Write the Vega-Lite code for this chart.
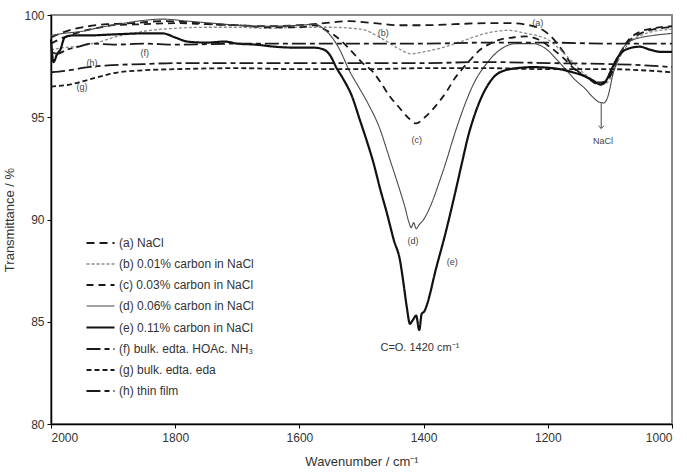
{
"$schema":"https://vega.github.io/schema/vega-lite/v6.json",
"width":621,"height":409,
"autosize":{"type":"none"},
"padding":{"left":51,"top":15,"right":15,"bottom":48},
"config":{"view":{"stroke":"#8a8a8a","strokeWidth":2},"font":"Liberation Sans",
"axis":{"grid":false,"domainColor":"#000","domainWidth":1.5,"tickColor":"#000","tickSize":4,"labelFontSize":12,"labelColor":"#333","titleFontSize":13,"titleFontWeight":"normal","titleColor":"#333","labelFont":"Liberation Sans","titleFont":"Liberation Sans"}},
"datasets":{
"spectra":[
{"s":"(a) NaCl","w":2000,"t":98.9},{"s":"(a) NaCl","w":1985,"t":99.1},{"s":"(a) NaCl","w":1965,"t":99.3},{"s":"(a) NaCl","w":1940,"t":99.45},{"s":"(a) NaCl","w":1910,"t":99.55},{"s":"(a) NaCl","w":1870,"t":99.6},{"s":"(a) NaCl","w":1820,"t":99.7},{"s":"(a) NaCl","w":1780,"t":99.65},{"s":"(a) NaCl","w":1740,"t":99.55},{"s":"(a) NaCl","w":1700,"t":99.5},{"s":"(a) NaCl","w":1650,"t":99.45},{"s":"(a) NaCl","w":1600,"t":99.5},{"s":"(a) NaCl","w":1560,"t":99.6},{"s":"(a) NaCl","w":1520,"t":99.7},{"s":"(a) NaCl","w":1480,"t":99.6},{"s":"(a) NaCl","w":1440,"t":99.5},{"s":"(a) NaCl","w":1400,"t":99.5},{"s":"(a) NaCl","w":1350,"t":99.55},{"s":"(a) NaCl","w":1300,"t":99.6},{"s":"(a) NaCl","w":1260,"t":99.6},{"s":"(a) NaCl","w":1230,"t":99.5},{"s":"(a) NaCl","w":1210,"t":99.3},{"s":"(a) NaCl","w":1190,"t":98.8},{"s":"(a) NaCl","w":1175,"t":98.2},{"s":"(a) NaCl","w":1160,"t":97.5},{"s":"(a) NaCl","w":1145,"t":97.1},{"s":"(a) NaCl","w":1130,"t":96.85},{"s":"(a) NaCl","w":1118,"t":96.7},{"s":"(a) NaCl","w":1108,"t":96.75},{"s":"(a) NaCl","w":1100,"t":97.0},{"s":"(a) NaCl","w":1092,"t":97.5},{"s":"(a) NaCl","w":1084,"t":98.1},{"s":"(a) NaCl","w":1070,"t":98.7},{"s":"(a) NaCl","w":1050,"t":99.1},{"s":"(a) NaCl","w":1030,"t":99.3},{"s":"(a) NaCl","w":1000,"t":99.4},
{"s":"(b) 0.01% carbon in NaCl","w":2000,"t":98.3},{"s":"(b) 0.01% carbon in NaCl","w":1980,"t":98.4},{"s":"(b) 0.01% carbon in NaCl","w":1950,"t":98.5},{"s":"(b) 0.01% carbon in NaCl","w":1920,"t":98.7},{"s":"(b) 0.01% carbon in NaCl","w":1900,"t":98.9},{"s":"(b) 0.01% carbon in NaCl","w":1870,"t":99.1},{"s":"(b) 0.01% carbon in NaCl","w":1840,"t":99.25},{"s":"(b) 0.01% carbon in NaCl","w":1800,"t":99.35},{"s":"(b) 0.01% carbon in NaCl","w":1750,"t":99.4},{"s":"(b) 0.01% carbon in NaCl","w":1700,"t":99.4},{"s":"(b) 0.01% carbon in NaCl","w":1650,"t":99.35},{"s":"(b) 0.01% carbon in NaCl","w":1600,"t":99.4},{"s":"(b) 0.01% carbon in NaCl","w":1550,"t":99.4},{"s":"(b) 0.01% carbon in NaCl","w":1500,"t":99.3},{"s":"(b) 0.01% carbon in NaCl","w":1470,"t":98.9},{"s":"(b) 0.01% carbon in NaCl","w":1440,"t":98.35},{"s":"(b) 0.01% carbon in NaCl","w":1420,"t":98.1},{"s":"(b) 0.01% carbon in NaCl","w":1400,"t":98.2},{"s":"(b) 0.01% carbon in NaCl","w":1370,"t":98.4},{"s":"(b) 0.01% carbon in NaCl","w":1340,"t":98.7},{"s":"(b) 0.01% carbon in NaCl","w":1300,"t":99.1},{"s":"(b) 0.01% carbon in NaCl","w":1265,"t":99.25},{"s":"(b) 0.01% carbon in NaCl","w":1235,"t":99.1},{"s":"(b) 0.01% carbon in NaCl","w":1200,"t":98.8},{"s":"(b) 0.01% carbon in NaCl","w":1180,"t":98.3},{"s":"(b) 0.01% carbon in NaCl","w":1160,"t":97.7},{"s":"(b) 0.01% carbon in NaCl","w":1140,"t":97.1},{"s":"(b) 0.01% carbon in NaCl","w":1125,"t":96.8},{"s":"(b) 0.01% carbon in NaCl","w":1112,"t":96.6},{"s":"(b) 0.01% carbon in NaCl","w":1104,"t":96.7},{"s":"(b) 0.01% carbon in NaCl","w":1096,"t":97.1},{"s":"(b) 0.01% carbon in NaCl","w":1086,"t":97.8},{"s":"(b) 0.01% carbon in NaCl","w":1070,"t":98.6},{"s":"(b) 0.01% carbon in NaCl","w":1050,"t":99.0},{"s":"(b) 0.01% carbon in NaCl","w":1030,"t":99.2},{"s":"(b) 0.01% carbon in NaCl","w":1000,"t":99.3},
{"s":"(c) 0.03% carbon in NaCl","w":2000,"t":98.6},{"s":"(c) 0.03% carbon in NaCl","w":1980,"t":98.9},{"s":"(c) 0.03% carbon in NaCl","w":1950,"t":99.2},{"s":"(c) 0.03% carbon in NaCl","w":1920,"t":99.4},{"s":"(c) 0.03% carbon in NaCl","w":1900,"t":99.5},{"s":"(c) 0.03% carbon in NaCl","w":1850,"t":99.55},{"s":"(c) 0.03% carbon in NaCl","w":1800,"t":99.6},{"s":"(c) 0.03% carbon in NaCl","w":1750,"t":99.55},{"s":"(c) 0.03% carbon in NaCl","w":1700,"t":99.5},{"s":"(c) 0.03% carbon in NaCl","w":1650,"t":99.4},{"s":"(c) 0.03% carbon in NaCl","w":1600,"t":99.4},{"s":"(c) 0.03% carbon in NaCl","w":1575,"t":99.5},{"s":"(c) 0.03% carbon in NaCl","w":1560,"t":99.3},{"s":"(c) 0.03% carbon in NaCl","w":1548,"t":99.1},{"s":"(c) 0.03% carbon in NaCl","w":1535,"t":98.8},{"s":"(c) 0.03% carbon in NaCl","w":1515,"t":98.2},{"s":"(c) 0.03% carbon in NaCl","w":1500,"t":97.7},{"s":"(c) 0.03% carbon in NaCl","w":1481,"t":97.2},{"s":"(c) 0.03% carbon in NaCl","w":1467,"t":96.6},{"s":"(c) 0.03% carbon in NaCl","w":1454,"t":96.0},{"s":"(c) 0.03% carbon in NaCl","w":1440,"t":95.5},{"s":"(c) 0.03% carbon in NaCl","w":1422,"t":94.9},{"s":"(c) 0.03% carbon in NaCl","w":1412,"t":94.7},{"s":"(c) 0.03% carbon in NaCl","w":1398,"t":95.0},{"s":"(c) 0.03% carbon in NaCl","w":1385,"t":95.4},{"s":"(c) 0.03% carbon in NaCl","w":1374,"t":95.8},{"s":"(c) 0.03% carbon in NaCl","w":1362,"t":96.3},{"s":"(c) 0.03% carbon in NaCl","w":1350,"t":96.9},{"s":"(c) 0.03% carbon in NaCl","w":1338,"t":97.35},{"s":"(c) 0.03% carbon in NaCl","w":1325,"t":97.8},{"s":"(c) 0.03% carbon in NaCl","w":1309,"t":98.3},{"s":"(c) 0.03% carbon in NaCl","w":1293,"t":98.6},{"s":"(c) 0.03% carbon in NaCl","w":1277,"t":98.8},{"s":"(c) 0.03% carbon in NaCl","w":1256,"t":98.9},{"s":"(c) 0.03% carbon in NaCl","w":1235,"t":98.95},{"s":"(c) 0.03% carbon in NaCl","w":1215,"t":98.8},{"s":"(c) 0.03% carbon in NaCl","w":1195,"t":98.4},{"s":"(c) 0.03% carbon in NaCl","w":1175,"t":97.9},{"s":"(c) 0.03% carbon in NaCl","w":1155,"t":97.3},{"s":"(c) 0.03% carbon in NaCl","w":1135,"t":96.9},{"s":"(c) 0.03% carbon in NaCl","w":1118,"t":96.6},{"s":"(c) 0.03% carbon in NaCl","w":1108,"t":96.7},{"s":"(c) 0.03% carbon in NaCl","w":1098,"t":97.1},{"s":"(c) 0.03% carbon in NaCl","w":1088,"t":97.8},{"s":"(c) 0.03% carbon in NaCl","w":1072,"t":98.7},{"s":"(c) 0.03% carbon in NaCl","w":1050,"t":99.2},{"s":"(c) 0.03% carbon in NaCl","w":1030,"t":99.35},{"s":"(c) 0.03% carbon in NaCl","w":1000,"t":99.45},
{"s":"(d) 0.06% carbon in NaCl","w":2000,"t":99.0},{"s":"(d) 0.06% carbon in NaCl","w":1980,"t":99.1},{"s":"(d) 0.06% carbon in NaCl","w":1950,"t":99.2},{"s":"(d) 0.06% carbon in NaCl","w":1920,"t":99.4},{"s":"(d) 0.06% carbon in NaCl","w":1900,"t":99.5},{"s":"(d) 0.06% carbon in NaCl","w":1860,"t":99.7},{"s":"(d) 0.06% carbon in NaCl","w":1820,"t":99.8},{"s":"(d) 0.06% carbon in NaCl","w":1780,"t":99.7},{"s":"(d) 0.06% carbon in NaCl","w":1740,"t":99.6},{"s":"(d) 0.06% carbon in NaCl","w":1700,"t":99.5},{"s":"(d) 0.06% carbon in NaCl","w":1650,"t":99.45},{"s":"(d) 0.06% carbon in NaCl","w":1600,"t":99.5},{"s":"(d) 0.06% carbon in NaCl","w":1575,"t":99.55},{"s":"(d) 0.06% carbon in NaCl","w":1560,"t":99.3},{"s":"(d) 0.06% carbon in NaCl","w":1550,"t":99.0},{"s":"(d) 0.06% carbon in NaCl","w":1535,"t":98.3},{"s":"(d) 0.06% carbon in NaCl","w":1520,"t":97.3},{"s":"(d) 0.06% carbon in NaCl","w":1505,"t":96.5},{"s":"(d) 0.06% carbon in NaCl","w":1490,"t":95.7},{"s":"(d) 0.06% carbon in NaCl","w":1470,"t":94.4},{"s":"(d) 0.06% carbon in NaCl","w":1455,"t":93.0},{"s":"(d) 0.06% carbon in NaCl","w":1440,"t":91.6},{"s":"(d) 0.06% carbon in NaCl","w":1430,"t":90.6},{"s":"(d) 0.06% carbon in NaCl","w":1424,"t":89.9},{"s":"(d) 0.06% carbon in NaCl","w":1420,"t":89.6},{"s":"(d) 0.06% carbon in NaCl","w":1416,"t":89.85},{"s":"(d) 0.06% carbon in NaCl","w":1412,"t":89.55},{"s":"(d) 0.06% carbon in NaCl","w":1407,"t":89.75},{"s":"(d) 0.06% carbon in NaCl","w":1400,"t":90.0},{"s":"(d) 0.06% carbon in NaCl","w":1387,"t":90.8},{"s":"(d) 0.06% carbon in NaCl","w":1374,"t":91.9},{"s":"(d) 0.06% carbon in NaCl","w":1363,"t":92.9},{"s":"(d) 0.06% carbon in NaCl","w":1353,"t":93.9},{"s":"(d) 0.06% carbon in NaCl","w":1341,"t":95.0},{"s":"(d) 0.06% carbon in NaCl","w":1330,"t":95.9},{"s":"(d) 0.06% carbon in NaCl","w":1320,"t":96.6},{"s":"(d) 0.06% carbon in NaCl","w":1298,"t":97.65},{"s":"(d) 0.06% carbon in NaCl","w":1277,"t":98.3},{"s":"(d) 0.06% carbon in NaCl","w":1250,"t":98.6},{"s":"(d) 0.06% carbon in NaCl","w":1224,"t":98.6},{"s":"(d) 0.06% carbon in NaCl","w":1201,"t":98.3},{"s":"(d) 0.06% carbon in NaCl","w":1185,"t":97.8},{"s":"(d) 0.06% carbon in NaCl","w":1170,"t":97.3},{"s":"(d) 0.06% carbon in NaCl","w":1155,"t":96.8},{"s":"(d) 0.06% carbon in NaCl","w":1140,"t":96.4},{"s":"(d) 0.06% carbon in NaCl","w":1128,"t":96.0},{"s":"(d) 0.06% carbon in NaCl","w":1118,"t":95.75},{"s":"(d) 0.06% carbon in NaCl","w":1110,"t":95.7},{"s":"(d) 0.06% carbon in NaCl","w":1104,"t":95.95},{"s":"(d) 0.06% carbon in NaCl","w":1100,"t":96.4},{"s":"(d) 0.06% carbon in NaCl","w":1096,"t":97.0},{"s":"(d) 0.06% carbon in NaCl","w":1090,"t":97.6},{"s":"(d) 0.06% carbon in NaCl","w":1084,"t":98.1},{"s":"(d) 0.06% carbon in NaCl","w":1068,"t":98.7},{"s":"(d) 0.06% carbon in NaCl","w":1050,"t":98.9},{"s":"(d) 0.06% carbon in NaCl","w":1030,"t":99.0},{"s":"(d) 0.06% carbon in NaCl","w":1000,"t":99.1},
{"s":"(e) 0.11% carbon in NaCl","w":2000,"t":98.8},{"s":"(e) 0.11% carbon in NaCl","w":1996,"t":97.7},{"s":"(e) 0.11% carbon in NaCl","w":1990,"t":98.1},{"s":"(e) 0.11% carbon in NaCl","w":1985,"t":98.3},{"s":"(e) 0.11% carbon in NaCl","w":1978,"t":98.9},{"s":"(e) 0.11% carbon in NaCl","w":1965,"t":99.0},{"s":"(e) 0.11% carbon in NaCl","w":1940,"t":99.0},{"s":"(e) 0.11% carbon in NaCl","w":1900,"t":99.05},{"s":"(e) 0.11% carbon in NaCl","w":1850,"t":99.1},{"s":"(e) 0.11% carbon in NaCl","w":1820,"t":99.1},{"s":"(e) 0.11% carbon in NaCl","w":1800,"t":98.9},{"s":"(e) 0.11% carbon in NaCl","w":1780,"t":98.7},{"s":"(e) 0.11% carbon in NaCl","w":1750,"t":98.65},{"s":"(e) 0.11% carbon in NaCl","w":1720,"t":98.7},{"s":"(e) 0.11% carbon in NaCl","w":1700,"t":98.6},{"s":"(e) 0.11% carbon in NaCl","w":1670,"t":98.55},{"s":"(e) 0.11% carbon in NaCl","w":1640,"t":98.45},{"s":"(e) 0.11% carbon in NaCl","w":1600,"t":98.4},{"s":"(e) 0.11% carbon in NaCl","w":1575,"t":98.4},{"s":"(e) 0.11% carbon in NaCl","w":1560,"t":98.3},{"s":"(e) 0.11% carbon in NaCl","w":1550,"t":98.0},{"s":"(e) 0.11% carbon in NaCl","w":1540,"t":97.4},{"s":"(e) 0.11% carbon in NaCl","w":1530,"t":96.9},{"s":"(e) 0.11% carbon in NaCl","w":1515,"t":96.0},{"s":"(e) 0.11% carbon in NaCl","w":1503,"t":94.9},{"s":"(e) 0.11% carbon in NaCl","w":1490,"t":93.7},{"s":"(e) 0.11% carbon in NaCl","w":1481,"t":92.8},{"s":"(e) 0.11% carbon in NaCl","w":1470,"t":91.5},{"s":"(e) 0.11% carbon in NaCl","w":1459,"t":90.3},{"s":"(e) 0.11% carbon in NaCl","w":1448,"t":89.0},{"s":"(e) 0.11% carbon in NaCl","w":1438,"t":88.0},{"s":"(e) 0.11% carbon in NaCl","w":1432,"t":86.8},{"s":"(e) 0.11% carbon in NaCl","w":1427,"t":85.7},{"s":"(e) 0.11% carbon in NaCl","w":1422,"t":84.9},{"s":"(e) 0.11% carbon in NaCl","w":1417,"t":85.1},{"s":"(e) 0.11% carbon in NaCl","w":1412,"t":85.3},{"s":"(e) 0.11% carbon in NaCl","w":1407,"t":84.6},{"s":"(e) 0.11% carbon in NaCl","w":1403,"t":85.4},{"s":"(e) 0.11% carbon in NaCl","w":1399,"t":85.5},{"s":"(e) 0.11% carbon in NaCl","w":1395,"t":85.8},{"s":"(e) 0.11% carbon in NaCl","w":1380,"t":87.6},{"s":"(e) 0.11% carbon in NaCl","w":1365,"t":89.3},{"s":"(e) 0.11% carbon in NaCl","w":1350,"t":91.2},{"s":"(e) 0.11% carbon in NaCl","w":1338,"t":92.8},{"s":"(e) 0.11% carbon in NaCl","w":1328,"t":94.1},{"s":"(e) 0.11% carbon in NaCl","w":1318,"t":95.1},{"s":"(e) 0.11% carbon in NaCl","w":1298,"t":96.5},{"s":"(e) 0.11% carbon in NaCl","w":1277,"t":97.2},{"s":"(e) 0.11% carbon in NaCl","w":1250,"t":97.4},{"s":"(e) 0.11% carbon in NaCl","w":1224,"t":97.45},{"s":"(e) 0.11% carbon in NaCl","w":1192,"t":97.4},{"s":"(e) 0.11% carbon in NaCl","w":1160,"t":97.2},{"s":"(e) 0.11% carbon in NaCl","w":1140,"t":97.0},{"s":"(e) 0.11% carbon in NaCl","w":1125,"t":96.75},{"s":"(e) 0.11% carbon in NaCl","w":1115,"t":96.6},{"s":"(e) 0.11% carbon in NaCl","w":1106,"t":96.8},{"s":"(e) 0.11% carbon in NaCl","w":1098,"t":97.3},{"s":"(e) 0.11% carbon in NaCl","w":1088,"t":97.9},{"s":"(e) 0.11% carbon in NaCl","w":1075,"t":98.3},{"s":"(e) 0.11% carbon in NaCl","w":1052,"t":98.45},{"s":"(e) 0.11% carbon in NaCl","w":1035,"t":98.3},{"s":"(e) 0.11% carbon in NaCl","w":1019,"t":98.2},{"s":"(e) 0.11% carbon in NaCl","w":1000,"t":98.2},
{"s":"(f) bulk. edta. HOAc. NH₃","w":2000,"t":98.2},{"s":"(f) bulk. edta. HOAc. NH₃","w":1990,"t":98.1},{"s":"(f) bulk. edta. HOAc. NH₃","w":1975,"t":98.3},{"s":"(f) bulk. edta. HOAc. NH₃","w":1955,"t":98.45},{"s":"(f) bulk. edta. HOAc. NH₃","w":1935,"t":98.6},{"s":"(f) bulk. edta. HOAc. NH₃","w":1900,"t":98.55},{"s":"(f) bulk. edta. HOAc. NH₃","w":1850,"t":98.6},{"s":"(f) bulk. edta. HOAc. NH₃","w":1800,"t":98.55},{"s":"(f) bulk. edta. HOAc. NH₃","w":1700,"t":98.6},{"s":"(f) bulk. edta. HOAc. NH₃","w":1600,"t":98.6},{"s":"(f) bulk. edta. HOAc. NH₃","w":1500,"t":98.6},{"s":"(f) bulk. edta. HOAc. NH₃","w":1400,"t":98.6},{"s":"(f) bulk. edta. HOAc. NH₃","w":1300,"t":98.65},{"s":"(f) bulk. edta. HOAc. NH₃","w":1200,"t":98.65},{"s":"(f) bulk. edta. HOAc. NH₃","w":1100,"t":98.6},{"s":"(f) bulk. edta. HOAc. NH₃","w":1000,"t":98.6},
{"s":"(g) bulk. edta. eda","w":2000,"t":96.5},{"s":"(g) bulk. edta. eda","w":1970,"t":96.6},{"s":"(g) bulk. edta. eda","w":1950,"t":96.75},{"s":"(g) bulk. edta. eda","w":1920,"t":97.0},{"s":"(g) bulk. edta. eda","w":1900,"t":97.15},{"s":"(g) bulk. edta. eda","w":1850,"t":97.3},{"s":"(g) bulk. edta. eda","w":1800,"t":97.35},{"s":"(g) bulk. edta. eda","w":1700,"t":97.4},{"s":"(g) bulk. edta. eda","w":1600,"t":97.35},{"s":"(g) bulk. edta. eda","w":1500,"t":97.35},{"s":"(g) bulk. edta. eda","w":1400,"t":97.4},{"s":"(g) bulk. edta. eda","w":1300,"t":97.4},{"s":"(g) bulk. edta. eda","w":1200,"t":97.35},{"s":"(g) bulk. edta. eda","w":1100,"t":97.35},{"s":"(g) bulk. edta. eda","w":1050,"t":97.3},{"s":"(g) bulk. edta. eda","w":1000,"t":97.2},
{"s":"(h) thin film","w":2000,"t":97.2},{"s":"(h) thin film","w":1970,"t":97.3},{"s":"(h) thin film","w":1940,"t":97.45},{"s":"(h) thin film","w":1900,"t":97.55},{"s":"(h) thin film","w":1850,"t":97.6},{"s":"(h) thin film","w":1800,"t":97.65},{"s":"(h) thin film","w":1700,"t":97.65},{"s":"(h) thin film","w":1600,"t":97.65},{"s":"(h) thin film","w":1500,"t":97.65},{"s":"(h) thin film","w":1400,"t":97.65},{"s":"(h) thin film","w":1300,"t":97.7},{"s":"(h) thin film","w":1200,"t":97.65},{"s":"(h) thin film","w":1100,"t":97.6},{"s":"(h) thin film","w":1050,"t":97.55},{"s":"(h) thin film","w":1000,"t":97.45}
],
"notes":[
{"w":1216,"t":99.6,"n":"(a)"},{"w":1465,"t":99.1,"n":"(b)"},{"w":1411,"t":93.9,"n":"(c)"},{"w":1417,"t":88.95,"n":"(d)"},{"w":1354,"t":87.9,"n":"(e)"},{"w":1849,"t":98.14,"n":"(f)"},{"w":1950,"t":96.5,"n":"(g)"},{"w":1934,"t":97.65,"n":"(h)"},{"w":1111,"t":93.84,"n":"NaCl"}
],
"big":[{"w":1406,"t":83.7,"n":"C=O. 1420 cm⁻¹"}],
"arrow":[{"w":1114,"t":95.7,"t2":94.45}]
},
"layer":[
{"data":{"name":"spectra"},
"mark":{"type":"line","interpolate":"monotone"},
"encoding":{
"x":{"field":"w","type":"quantitative","scale":{"domain":[1000,2000],"reverse":true,"nice":false},"axis":{"values":[2000,1800,1600,1400,1200,1000],"title":"Wavenumber / cm⁻¹","labelPadding":4,"titlePadding":12,"format":"d"}},
"y":{"field":"t","type":"quantitative","scale":{"domain":[80,100],"nice":false},"axis":{"values":[80,85,90,95,100],"title":"Transmittance / %","labelPadding":3,"titlePadding":7}},
"color":{"field":"s","type":"nominal","scale":{"domain":["(a) NaCl","(b) 0.01% carbon in NaCl","(c) 0.03% carbon in NaCl","(d) 0.06% carbon in NaCl","(e) 0.11% carbon in NaCl","(f) bulk. edta. HOAc. NH₃","(g) bulk. edta. eda","(h) thin film"],"range":["#1a1a1a","#8a8a8a","#1a1a1a","#4a4a4a","#111111","#1a1a1a","#1a1a1a","#1a1a1a"]},
"legend":{"title":null,"orient":"none","legendX":34,"legendY":213,"symbolType":"stroke","symbolSize":784,"labelFontSize":12,"labelColor":"#333","labelFont":"Liberation Sans","rowPadding":0,"labelOffset":3}},
"strokeDash":{"field":"s","type":"nominal","scale":{"domain":["(a) NaCl","(b) 0.01% carbon in NaCl","(c) 0.03% carbon in NaCl","(d) 0.06% carbon in NaCl","(e) 0.11% carbon in NaCl","(f) bulk. edta. HOAc. NH₃","(g) bulk. edta. eda","(h) thin film"],"range":[[8,5],[3,2],[7,5],[1,0],[1,0],[14,4,5,4],[5,3],[14,4,5,4]]},
"legend":{"title":null,"orient":"none","legendX":34,"legendY":213,"symbolType":"stroke","symbolSize":784,"labelFontSize":12,"labelColor":"#333","labelFont":"Liberation Sans","rowPadding":0,"labelOffset":3}},
"strokeWidth":{"field":"s","type":"nominal","scale":{"type":"ordinal","domain":["(a) NaCl","(b) 0.01% carbon in NaCl","(c) 0.03% carbon in NaCl","(d) 0.06% carbon in NaCl","(e) 0.11% carbon in NaCl","(f) bulk. edta. HOAc. NH₃","(g) bulk. edta. eda","(h) thin film"],"range":[1.8,1.3,1.8,1.1,2.2,1.8,1.8,1.8]},
"legend":{"title":null,"orient":"none","legendX":34,"legendY":213,"symbolType":"stroke","symbolSize":784,"labelFontSize":12,"labelColor":"#333","labelFont":"Liberation Sans","rowPadding":0,"labelOffset":3}}
}},
{"data":{"name":"notes"},
"mark":{"type":"text","fontSize":9,"color":"#444","fill":"#444","font":"Liberation Sans"},
"encoding":{"x":{"field":"w","type":"quantitative"},"y":{"field":"t","type":"quantitative"},"text":{"field":"n"}}},
{"data":{"name":"big"},
"mark":{"type":"text","fontSize":11,"color":"#333","fill":"#333","font":"Liberation Sans"},
"encoding":{"x":{"field":"w","type":"quantitative"},"y":{"field":"t","type":"quantitative"},"text":{"field":"n"}}},
{"data":{"name":"arrow"},
"mark":{"type":"rule","color":"#444","strokeWidth":1},
"encoding":{"x":{"field":"w","type":"quantitative"},"y":{"field":"t","type":"quantitative"},"y2":{"field":"t2"}}},
{"data":{"name":"arrow"},
"mark":{"type":"point","shape":"M-1,-1L0,0L1,-1","size":30,"filled":false,"stroke":"#444","strokeWidth":1,"opacity":1},
"encoding":{"x":{"field":"w","type":"quantitative"},"y":{"field":"t2","type":"quantitative"}}}
]
}
